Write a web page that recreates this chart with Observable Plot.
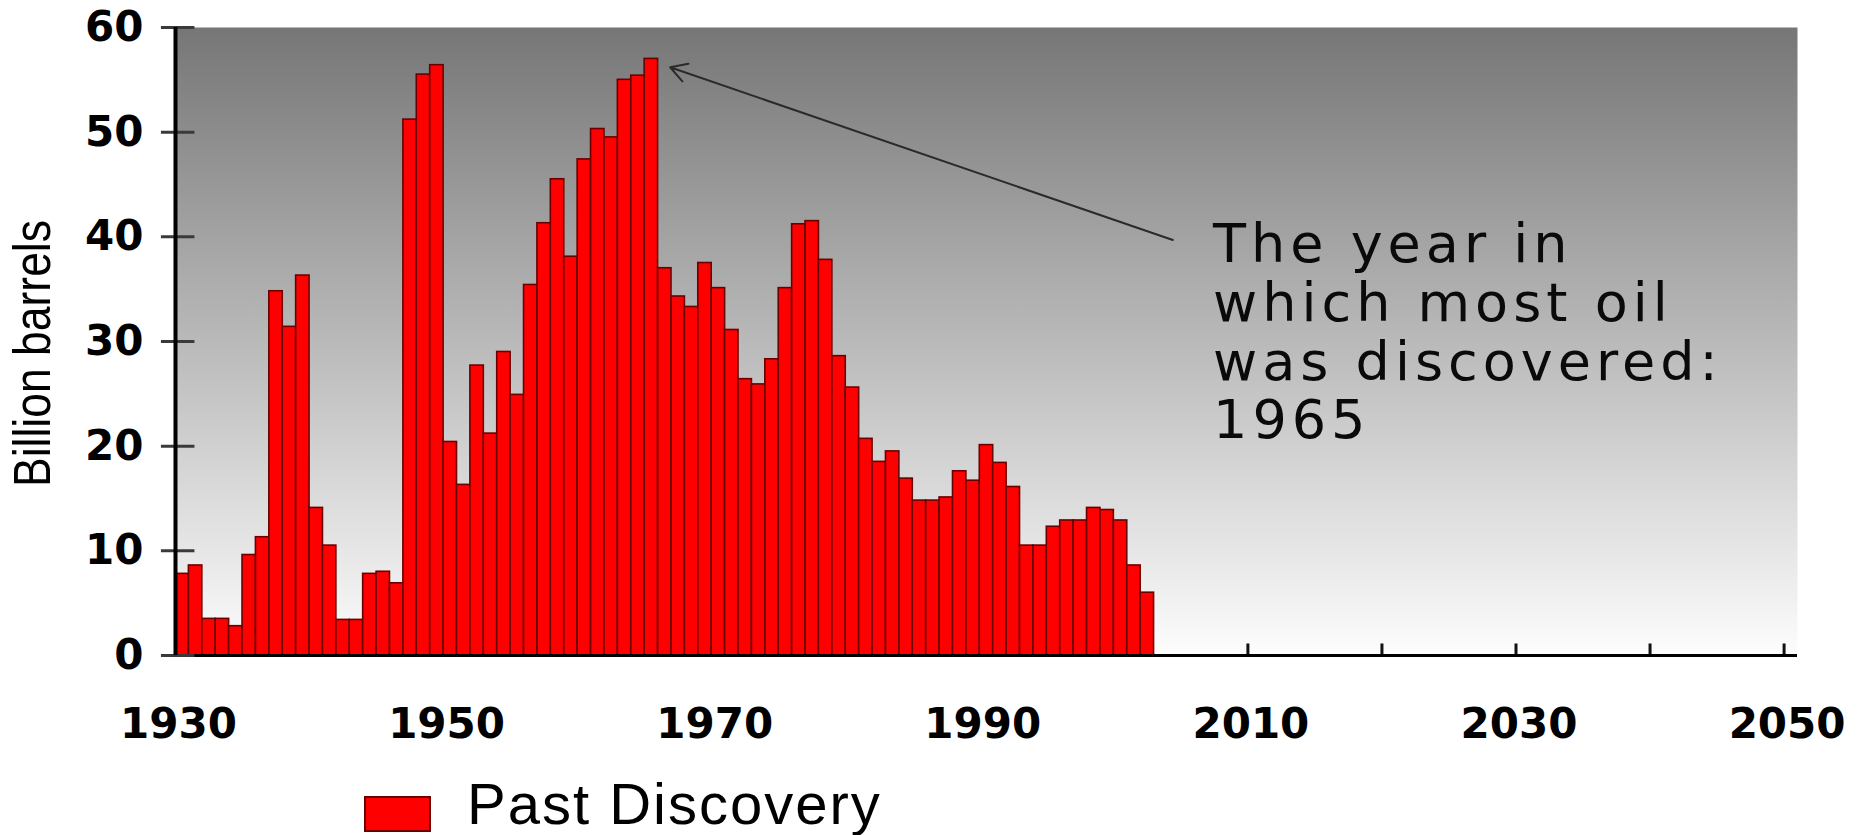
<!DOCTYPE html>
<html><head><meta charset="utf-8">
<script src="https://cdn.jsdelivr.net/npm/d3@7"></script>
<script src="https://cdn.jsdelivr.net/npm/@observablehq/plot@0.6"></script>
<style>
html,body{margin:0;padding:0;background:#fff;}
#wrap{position:relative;width:1862px;height:835px;overflow:hidden;}
#legend{position:absolute;left:364px;top:775px;height:58px;width:700px;}
#legend .sw{position:absolute;left:0;top:21px;width:63px;height:32px;background:#ff0000;border:2px solid #6a0000;}
#legend .lb{position:absolute;left:103px;top:0;font-family:"Liberation Sans",Arial,sans-serif;font-size:58px;line-height:58px;letter-spacing:2px;white-space:nowrap;color:#000;}
</style></head><body>
<div id="wrap"><div id="chart"></div><div id="legend"><div class="sw"></div><div class="lb" id="legendLabel"></div></div></div>
<script>
const years = [1930,1931,1932,1933,1934,1935,1936,1937,1938,1939,
  1940,1941,1942,1943,1944,1945,1946,1947,1948,1949,
  1950,1951,1952,1953,1954,1955,1956,1957,1958,1959,
  1960,1961,1962,1963,1964,1965,1966,1967,1968,1969,
  1970,1971,1972,1973,1974,1975,1976,1977,1978,1979,
  1980,1981,1982,1983,1984,1985,1986,1987,1988,1989,
  1990,1991,1992,1993,1994,1995,1996,1997,1998,1999,
  2000,2001,2002];
const discoveries = [7.8,8.6,3.5,3.5,2.8,9.6,11.3,34.8,31.4,36.3,
  14.1,10.5,3.4,3.4,7.8,8.0,6.9,51.2,55.5,56.4,
  20.4,16.3,27.7,21.2,29.0,24.9,35.4,41.3,45.5,38.1,
  47.4,50.3,49.5,55.0,55.4,57.0,37.0,34.3,33.3,37.5,
  35.1,31.1,26.4,25.9,28.3,35.1,41.2,41.5,37.8,28.6,
  25.6,20.7,18.5,19.5,16.9,14.8,14.8,15.1,17.6,16.7,
  20.1,18.4,16.1,10.5,10.5,12.3,12.9,12.9,14.1,13.9,
  12.9,8.6,6.0];
const yTicks = [0,10,20,30,40,50,60];
const xTickLabels = [1930,1950,1970,1990,2010,2030,2050];
const xTickMarks = [1930,1940,1950,1960,1970,1980,1990,2000,2010,2020,2030,2040,2050];
const yLabel = "Billion barrels";
const legendLabel = "Past Discovery";
const annotationText = "The year in\nwhich most oil\nwas discovered:\n1965";

const data = years.map((year, i) => ({year, value: discoveries[i]}));
const arrowSpec = [{x1: 2004.4, y1: 39.7, x2: 1966.9, y2: 56.2}];

const plot = Plot.plot({
  width: 1862, height: 775,
  marginLeft: 175, marginRight: 65, marginTop: 27, marginBottom: 120,
  x: {type: "linear", domain: [1930, 2051], range: [175, 1797]},
  y: {type: "linear", domain: [0, 60], range: [655, 27]},
  style: {background: "transparent", fontFamily: "DejaVu Sans, sans-serif", overflow: "visible", color: "#000"},
  marks: [
    Plot.frame({fill: "url(#bgGrad)", stroke: "none"}),
    Plot.ruleX(xTickMarks, {x: d => d, y1: 0, y2: 1.1, stroke: "#111", strokeWidth: 3}),
    Plot.rectY(data, {x1: "year", x2: d => d.year + 1, y: "value", fill: "#ff0000", stroke: "#6a0000", strokeWidth: 1.6}),
    Plot.ruleY([0], {x1: 1930, x2: 2051, stroke: "#000", strokeWidth: 3}),
    Plot.ruleY(yTicks, {y: d => d, x1: 1928.95, x2: 1931.45, stroke: "#3a3a3a", strokeWidth: 3}),
    Plot.ruleX([1930], {y1: 0, y2: 60, stroke: "#000", strokeWidth: 4}),
    Plot.axisY(yTicks, {tickSize: 0, tickPadding: 32, fontSize: 42, fontWeight: "bold", fontFamily: "DejaVu Sans", label: null}),
    Plot.axisX(xTickLabels, {tickSize: 0, tickPadding: 53, tickFormat: d => String(d), fontSize: 42, fontWeight: "bold", fontFamily: "DejaVu Sans", dx: 3, label: null}),
    Plot.text([yLabel], {frameAnchor: "left", dx: -142, dy: 12, rotate: -90, textAnchor: "middle", text: d => d, fontSize: 52, fontFamily: "Liberation Sans, sans-serif", fill: "#000"}),
    Plot.arrow(arrowSpec, {x1: "x1", y1: "y1", x2: "x2", y2: "y2", stroke: "#2a2a2a", strokeWidth: 2, headLength: 14}),
    Plot.text([annotationText], {x: 2007.4, y: 41.6, text: d => d, textAnchor: "start", lineAnchor: "top", fontSize: 54, lineHeight: 1.09, fill: "#0a0a0a", fontFamily: "DejaVu Sans, sans-serif"})
  ]
});

const ns = "http://www.w3.org/2000/svg";
const defs = document.createElementNS(ns, "defs");
defs.innerHTML = '<linearGradient id="bgGrad" x1="0" y1="0" x2="0" y2="1"><stop offset="0" stop-color="#767676"/><stop offset="1" stop-color="#fdfdfd"/></linearGradient>';
plot.insertBefore(defs, plot.firstChild);
plot.querySelectorAll("text").forEach(t => {
  if (t.textContent.includes("which most oil")) t.style.letterSpacing = "5px";
  if (t.textContent === yLabel) {
    t.setAttribute("textLength", "267");
    t.setAttribute("lengthAdjust", "spacingAndGlyphs");
  }
});
document.getElementById("chart").appendChild(plot);
document.getElementById("legendLabel").textContent = legendLabel;
</script>
</body></html>
